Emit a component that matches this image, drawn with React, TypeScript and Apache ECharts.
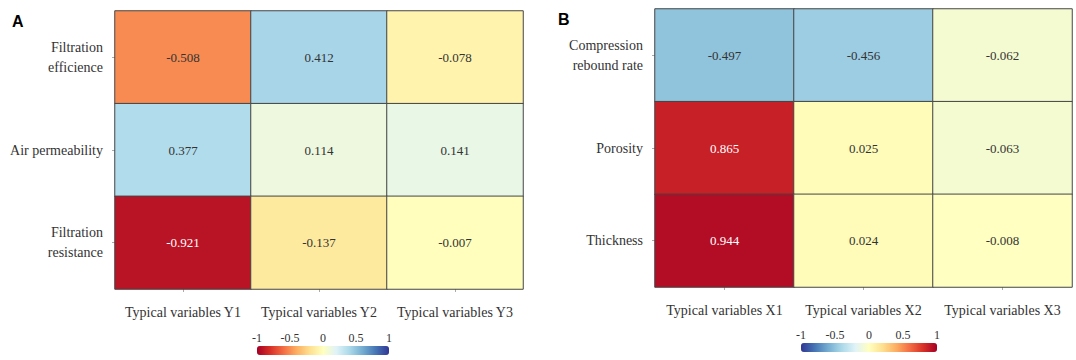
import React, { useEffect, useRef } from "react";
import * as echarts from "echarts";

const colsA = ["Typical variables Y1", "Typical variables Y2", "Typical variables Y3"];
const rowsA = ["Filtration\nefficience", "Air permeability", "Filtration\nresistance"];
const valuesA = [
  [-0.508, 0.412, -0.078],
  [0.377, 0.114, 0.141],
  [-0.921, -0.137, -0.007],
];

const colsB = ["Typical variables X1", "Typical variables X2", "Typical variables X3"];
const rowsB = ["Compression\nrebound rate", "Porosity", "Thickness"];
const valuesB = [
  [-0.497, -0.456, -0.062],
  [0.865, 0.025, -0.063],
  [0.944, 0.024, -0.008],
];

const scaleTicks = [-1, -0.5, 0, 0.5, 1];

const rdYlBu = [
  "#a50026", "#d73027", "#f46d43", "#fdae61", "#fee090", "#ffffbf",
  "#e0f3f8", "#abd9e9", "#74add1", "#4575b4", "#313695",
];

const FONT = "'Liberation Serif', 'Times New Roman', serif";

function toData(values: number[][]) {
  const out: any[] = [];
  values.forEach((row, r) =>
    row.forEach((v, c) => {
      out.push({
        value: [c, r, v],
        label: { color: Math.abs(v) > 0.8 ? "#ffffff" : "#333333" },
      });
    })
  );
  return out;
}

export default function App() {
  const ref = useRef<HTMLDivElement>(null);
  useEffect(() => {
    document.body.style.margin = "0";
    const chart = echarts.init(ref.current!, null, { renderer: "svg" });
    const grids = [
      { left: 115, top: 11, width: 408, height: 278 },
      { left: 655, top: 9, width: 417, height: 278 },
      { left: 257, top: 346, width: 132, height: 9 },
      { left: 801, top: 343, width: 136, height: 9 },
    ];
    const catX = (data: string[], gi: number) => ({
      type: "category",
      gridIndex: gi,
      data,
      axisLine: { show: false },
      axisTick: { show: true, length: 3, alignWithLabel: true, lineStyle: { color: "#aaaaaa" } },
      axisLabel: { interval: 0, fontFamily: FONT, fontSize: 14, color: "#333333", margin: 16 },
      splitLine: { show: false },
    });
    const catY = (data: string[], gi: number) => ({
      type: "category",
      gridIndex: gi,
      data,
      inverse: true,
      axisLine: { show: false },
      axisTick: { show: true, length: 3, alignWithLabel: true, lineStyle: { color: "#aaaaaa" } },
      axisLabel: { interval: 0, fontFamily: FONT, fontSize: 14, color: "#333333", margin: 12, lineHeight: 20, align: "right" },
      splitLine: { show: false },
    });
    const scaleX = (gi: number) => ({
      type: "value",
      gridIndex: gi,
      min: -1,
      max: 1,
      interval: 0.5,
      position: "top",
      axisLine: { show: false },
      axisTick: { show: false },
      splitLine: { show: false },
      axisLabel: { fontFamily: FONT, fontSize: 12, color: "#333333", margin: 2 },
    });
    const scaleY = (gi: number) => ({
      type: "value",
      gridIndex: gi,
      show: false,
    });
    const heat = (values: number[][], gi: number) => ({
      type: "heatmap",
      xAxisIndex: gi,
      yAxisIndex: gi,
      data: toData(values),
      label: {
        show: true,
        fontFamily: FONT,
        fontSize: 13,
        formatter: (p: any) => p.value[2].toFixed(3),
      },
      itemStyle: { borderColor: "#444444", borderWidth: 1 },
    });
    chart.setOption({
      animation: false,
      grid: grids,
      xAxis: [catX(colsA, 0), catX(colsB, 1), scaleX(2), scaleX(3)],
      yAxis: [catY(rowsA, 0), catY(rowsB, 1), scaleY(2), scaleY(3)],
      visualMap: [
        {
          type: "continuous",
          seriesIndex: 0,
          min: scaleTicks[0],
          max: scaleTicks[scaleTicks.length - 1],
          orient: "horizontal",
          left: 257,
          top: 346,
          itemWidth: 9,
          itemHeight: 132,
          padding: 0,
          calculable: false,
          hoverLink: false,
          text: null,
          inRange: { color: rdYlBu },
        },
        {
          type: "continuous",
          seriesIndex: 1,
          min: scaleTicks[0],
          max: scaleTicks[scaleTicks.length - 1],
          orient: "horizontal",
          left: 801,
          top: 343,
          itemWidth: 9,
          itemHeight: 136,
          padding: 0,
          calculable: false,
          hoverLink: false,
          text: null,
          inRange: { color: [...rdYlBu].reverse() },
        },
      ],
      series: [heat(valuesA, 0), heat(valuesB, 1)],
      graphic: [
        {
          type: "text",
          left: 12,
          top: 13,
          style: { text: "A", font: "bold 16px 'Liberation Sans'", fill: "#000000" },
        },
        {
          type: "text",
          left: 558,
          top: 11,
          style: { text: "B", font: "bold 16px 'Liberation Sans'", fill: "#000000" },
        },
      ],
    });
    return () => chart.dispose();
  }, []);
  return <div ref={ref} style={{ width: 1076, height: 360 }} />;
}
